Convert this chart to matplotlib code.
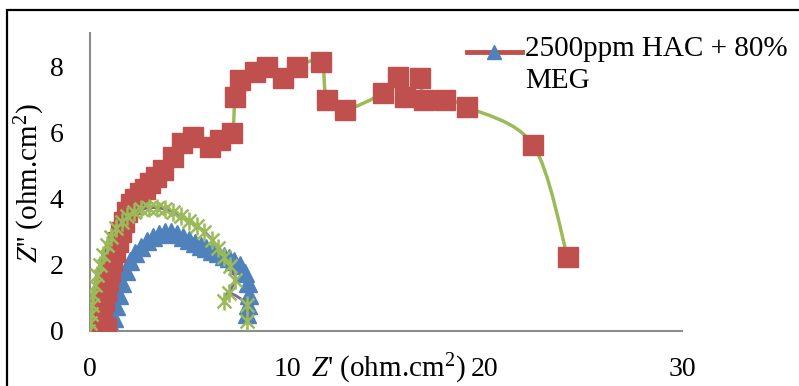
import matplotlib
matplotlib.use("Agg")
import matplotlib.pyplot as plt
from matplotlib.path import Path
from matplotlib.patches import PathPatch, Rectangle
from matplotlib.lines import Line2D

plt.rcParams['font.family'] = ['Liberation Serif', 'DejaVu Serif']
plt.rcParams['mathtext.fontset'] = 'custom'
plt.rcParams['mathtext.rm'] = 'Liberation Serif'
plt.rcParams['mathtext.it'] = 'Liberation Serif:italic'

# red squares on green line (large arc)
red_x = [0.3, 0.6, 0.8, 0.5, 0.55, 0.6, 0.7, 0.8, 0.9, 1.0, 1.1, 1.25, 1.4, 1.55, 1.7,
         1.9, 2.1, 2.3, 2.53, 2.8, 3.04, 3.35, 3.7, 4.2, 4.66, 5.22, 6.1, 6.6, 7.2, 7.35,
         7.6, 8.36, 8.96, 9.8, 10.5, 11.7, 12.0, 12.9, 14.85, 15.6, 15.97, 16.7, 16.93,
         18.0, 19.1, 22.45, 24.2]
red_y = [-0.1, -0.05, 0.1, 0.0, 0.3, 0.6, 0.9, 1.2, 1.5, 1.8, 2.1, 2.4, 2.7, 3.0, 3.3,
         3.6, 3.85, 4.0, 4.17, 4.3, 4.47, 4.65, 4.86, 5.26, 5.68, 5.86, 5.56, 5.77, 5.98, 7.07,
         7.58, 7.83, 7.98, 7.64, 7.98, 8.13, 6.98, 6.68, 7.19, 7.67, 7.07, 7.64, 6.98,
         6.98, 6.77, 5.62, 2.24]

# blue triangles on red line
blue_x = [1.15, 1.2, 1.3, 1.45, 1.6, 1.8, 2.05, 2.3, 2.6, 2.9, 3.2, 3.5, 3.8, 4.1, 4.4,
          4.7, 5.0, 5.3, 5.6, 5.9, 6.2, 6.5, 6.8, 7.05, 7.3, 7.6, 7.85, 8.0, 8.05, 8.0, 7.95]
blue_y = [0.05, 0.4, 0.75, 1.1, 1.45, 1.8, 2.1, 2.35, 2.55, 2.72, 2.85, 2.93, 2.98, 2.98, 2.93,
          2.85, 2.75, 2.65, 2.57, 2.5, 2.42, 2.35, 2.27, 2.2, 2.1, 2.0, 1.75, 1.45, 1.1, 0.8, 0.5]

# green stars on purple line
green_x = [-0.1, 0.0, 0.05, 0.1, 0.15, 0.25, 0.35, 0.5, 0.65, 0.85, 1.05, 1.3, 1.6, 1.9,
           2.25, 2.6, 3.0, 3.4, 3.8, 4.2, 4.6, 5.0, 5.4, 5.8, 6.2, 6.5, 6.8, 7.1, 7.35,
           6.8, 7.05, 7.95, 7.95]
green_y = [0.0, 0.25, 0.5, 0.8, 1.1, 1.4, 1.7, 2.0, 2.3, 2.6, 2.85, 3.1, 3.3, 3.48,
           3.6, 3.68, 3.72, 3.72, 3.68, 3.6, 3.48, 3.33, 3.18, 3.0, 2.75, 2.5, 2.25, 1.95, 1.55,
           0.9, 1.15, 0.8, 0.3]

x_ticks = [0, 10, 20, 30]
y_ticks = [0, 2, 4, 6, 8]
legend_label = "2500ppm HAC + 80%\nMEG"

c_red = '#c0504d'
c_blue = '#4f81bd'
c_green = '#9bbb59'
c_purple = '#8064a2'

star = Path([(-1, -1), (1, 1), (-1, 1), (1, -1), (0, -1.3), (0, 1.3)],
            [Path.MOVETO, Path.LINETO, Path.MOVETO, Path.LINETO, Path.MOVETO, Path.LINETO])


def smooth_path(xs, ys):
    # Excel-like smoothed line: Catmull-Rom segments as cubic Beziers
    pts = list(zip(xs, ys))
    verts = [pts[0]]
    codes = [Path.MOVETO]
    n = len(pts)
    for i in range(n - 1):
        p0 = pts[max(i - 1, 0)]
        p1 = pts[i]
        p2 = pts[i + 1]
        p3 = pts[min(i + 2, n - 1)]
        c1 = (p1[0] + (p2[0] - p0[0]) / 6, p1[1] + (p2[1] - p0[1]) / 6)
        c2 = (p2[0] - (p3[0] - p1[0]) / 6, p2[1] - (p3[1] - p1[1]) / 6)
        verts += [c1, c2, p2]
        codes += [Path.CURVE4] * 3
    return Path(verts, codes)


fig = plt.figure(figsize=(7.99, 3.86), dpi=100)
ax = fig.add_axes([90 / 799, 1 - 331 / 386, 592 / 799, 298 / 386])

ax.add_patch(PathPatch(smooth_path(blue_x, blue_y), fill=False, edgecolor=c_red,
                       lw=2, zorder=2))
ax.plot(blue_x, blue_y, ls='none', marker='^', ms=13, mfc=c_blue, mec=c_blue, zorder=2.1)
ax.add_patch(PathPatch(smooth_path(red_x[3:], red_y[3:]), fill=False, edgecolor=c_green,
                       lw=2.5, zorder=3))
ax.plot(red_x, red_y, ls='none', marker='s', ms=14, mfc=c_red, mec=c_red, zorder=3.1)
ax.add_patch(PathPatch(smooth_path(green_x, green_y), fill=False, edgecolor=c_purple,
                       lw=2, zorder=4))
ax.plot(green_x, green_y, ls='none', marker=star, ms=13,
        mfc='none', mec=c_green, mew=1.8, zorder=4.1)

ax.set_xlim(0, 30)
ax.set_ylim(0, 9)
ax.set_xticks(x_ticks)
ax.set_yticks(y_ticks)
ax.tick_params(length=0, labelsize=20)
ax.tick_params(axis='x', pad=19)
ax.tick_params(axis='y', pad=19)
for s in ['top', 'right']:
    ax.spines[s].set_visible(False)
for s in ['left', 'bottom']:
    ax.spines[s].set_color('#8c8c8c')
    ax.spines[s].set_linewidth(1.5)

fig.text(30 / 799, 1 - 183 / 386, r"$\mathit{Z}$'' (ohm.cm$^2$)", rotation=90,
         ha='center', va='center', fontsize=21)
fig.text(388 / 799, 1 - 369 / 386, r"$\mathit{Z}$' (ohm.cm$^2$)",
         ha='center', va='center', fontsize=21)

# legend drawn by hand, Excel style
ly = 1 - 52 / 386
fig.add_artist(Line2D([467 / 799, 522 / 799], [ly, ly], color=c_red, lw=3.5))
fig.add_artist(Line2D([494 / 799], [ly], marker='^', ms=10, color=c_blue, lw=0))
fig.text(525 / 799, 1 - 36 / 386, legend_label, ha='left', va='top',
         fontsize=21, linespacing=1.3)

fig.add_artist(Rectangle((7 / 799, -0.2), 1.2, 1.2 - 10 / 386, fill=False,
                         edgecolor='black', lw=1.6, transform=fig.transFigure))

fig.savefig('out.png', dpi=100)
